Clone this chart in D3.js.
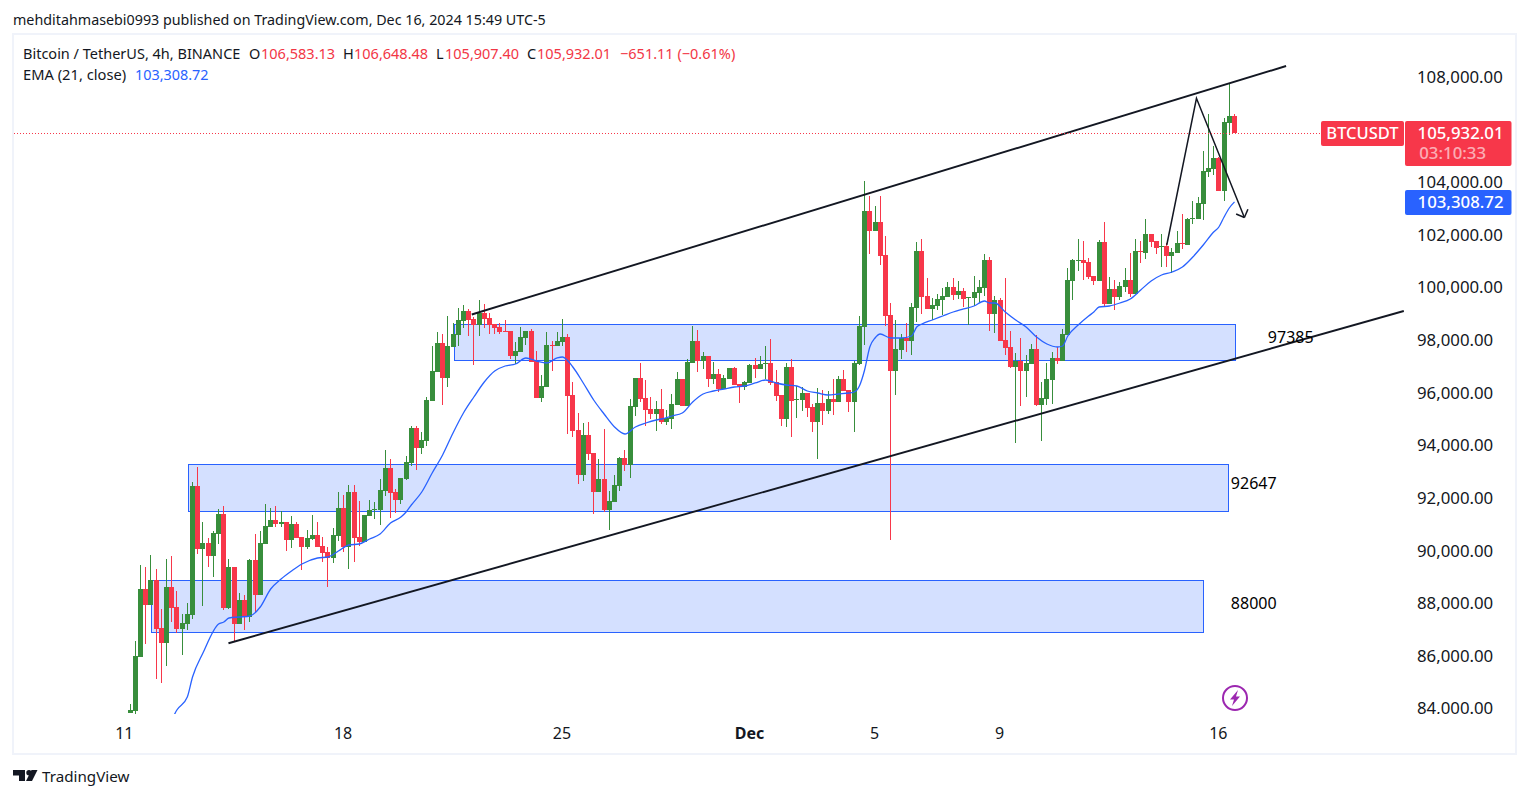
<!DOCTYPE html>
<html>
<head>
<meta charset="utf-8">
<script src="https://cdn.jsdelivr.net/npm/d3@7"></script>
<style>
  html, body { margin: 0; padding: 0; background: #fff; }
  svg { display: block; }
  text { font-family: "Noto Sans", sans-serif; }
</style>
</head>
<body>
<svg id="chart" width="1529" height="798"></svg>
<script>
// --- 4h candles, bar 0 is the left-most one ---
const candleOpen = [
  83886,83962,86014,88598,87990,88940,87116,86546,88674,87914,
  87078,87268,87610,92512,90118,90346,89852,90688,91448,87876,
  89434,87268,88180,87534,89700,88370,90308,90954,91220,91068,
  91144,90460,91068,90574,90194,90498,90650,90232,90004,89776,
  90612,91676,90194,92284,90574,90384,91372,91600,91600,92322,
  93196,92284,91980,92778,93386,94716,93956,94222,95742,96844,
  97946,96616,97794,98250,98782,99162,98858,98630,99086,98896,
  98668,98554,98402,98402,97452,97604,98136,98402,97262,95856,
  96274,97870,97832,97984,98174,95970,94640,92930,94450,93766,
  92284,92778,91600,91904,92512,93576,93310,95514,96616,95856,
  95438,95248,95438,94944,95058,95590,96578,95552,97186,98022,
  97262,97452,96578,96768,96198,96578,96996,96388,96274,96426,
  97110,96958,97148,97186,96464,95970,95058,97034,95780,95780,
  96046,95514,94944,95666,95362,95818,95704,96578,96160,95704,
  97148,98554,102962,102202,102544,101290,99010,96882,97680,98136,
  98022,99276,101442,99732,99238,99352,99580,99694,100074,99770,
  99922,99656,99656,99846,100036,101100,99048,99580,98060,97794,
  97034,97262,96882,97148,97718,95590,95818,96540,97376,97262,
  98250,100302,101062,101100,101024,100492,100302,101784,99428,99998,
  99694,100074,100340,99808,101442,101366,102088,101822,101594,101632,
  101252,101366,101746,101670,102658,102658,103228,104444,104558,104976,
  103722,106306,106583.13
];
const candleHigh = [
  84228,86622,89510,89434,89890,89358,87838,89738,89852,88522,
  87648,88066,92664,93234,91144,90536,90802,91638,91752,89738,
  89434,88446,88370,89738,90688,90802,91828,91676,91752,91562,
  91144,91372,91144,90574,90840,91410,91144,90574,90194,90916,
  92284,92170,92550,92550,91942,91410,91980,91904,92778,93880,
  93538,92398,92816,93652,94792,94792,94564,95894,97832,98364,
  98288,98972,98706,99276,99390,99238,98934,99580,99428,99086,
  98668,98706,98820,98402,97984,98554,98402,98478,97642,96730,
  98364,98022,98364,98858,98288,96464,95286,94906,94944,93766,
  93538,94678,92322,92930,93614,93880,95818,96616,97186,96540,
  95894,95742,96198,95400,96008,96844,96578,97338,98592,98440,
  97604,97452,97224,96958,96730,96996,97034,96388,96502,97148,
  97376,97452,97832,98098,96920,95970,97186,97338,96312,96274,
  96046,95628,96236,96160,96122,96578,96692,96920,96160,97262,
  98972,104102,103532,103152,103532,102012,99466,98820,98288,98706,
  99466,101784,101898,100416,99656,99808,100036,100264,100416,100302,
  100036,99694,100492,100340,101328,101214,99732,99656,100416,98402,
  97566,98136,97490,97908,98250,96464,97186,97604,97794,98478,
  100796,101138,101898,101822,101176,100492,101860,102544,100454,100340,
  100264,100796,101366,101898,101822,102658,102088,101822,102088,101746,
  101556,102202,102848,102696,103342,103494,105242,106648,105432,105014,
  106496,107788,106648.48
];
const candleLow = [
  83886,83848,86014,86508,87990,85178,85026,85672,87344,86926,
  86090,87040,87458,89928,87952,89434,89054,90308,87800,87838,
  86622,87268,87040,87344,87724,88370,90308,90954,90954,90954,
  90042,90156,90536,89320,90118,90460,90194,89624,88674,89586,
  90422,90004,89358,89624,90232,90384,91372,91258,91030,92132,
  91296,91486,91828,92740,93272,93120,93728,94032,95742,96844,
  95590,96274,97794,97832,98516,98212,97110,98212,98516,98288,
  98288,98288,98364,97338,97148,97604,97870,97224,95856,95704,
  96274,96882,97832,97832,94488,94374,92588,92702,93500,91448,
  92284,91524,90840,91904,92322,93082,92816,95172,95704,94792,
  95058,94602,94868,94830,94678,95590,95552,95552,97186,96844,
  96958,96274,96388,96084,96198,96578,96350,95666,96160,96426,
  96616,96958,96578,96350,95742,94792,94754,94374,95096,95362,
  95134,94564,93538,94830,95248,95210,95704,96122,95324,94564,
  97110,97870,101328,102202,100910,98592,90460,95970,97338,97604,
  97490,98744,99048,99238,98820,99200,99010,99694,99580,99618,
  99314,98630,99352,99466,99732,98402,98326,98022,97490,96996,
  94146,95552,95894,97148,95552,94222,95590,95628,97148,97262,
  98250,99580,100682,100340,100378,100150,100302,99314,99428,99200,
  99580,99884,99694,99808,100986,101138,101594,101328,100834,100834,
  100606,101366,101518,101670,102468,102658,102620,104254,104330,103722,
  103342,105850,105907.4
];
const candleClose = [
  84000,86052,88598,87990,88940,87078,86546,88674,87876,87078,
  87306,87648,92512,90118,90346,89852,90726,91448,87876,89434,
  87268,88180,87534,89700,88370,90346,90992,91220,91068,91144,
  90460,91068,90536,90194,90536,90650,90194,89966,89776,90650,
  91676,90194,92284,90536,90384,91410,91600,91638,92360,93196,
  92246,91980,92816,93424,94716,93956,94260,95780,96882,97946,
  96616,97832,98288,98820,99162,98820,98630,99086,98858,98630,
  98516,98364,98364,97452,97642,98174,98402,97224,95856,96312,
  97870,97832,98022,98174,95932,94602,92930,94450,93728,92284,
  92778,91600,91942,92550,93576,93310,95552,96616,95818,95400,
  95248,95438,94944,95096,95628,96578,95552,97224,98022,97262,
  97452,96578,96768,96198,96616,96996,96350,96274,96464,97110,
  96958,97148,97186,96426,95932,95058,97034,95742,95818,96046,
  95476,94944,95666,95362,95818,95704,96578,96122,95704,97186,
  98592,102962,102202,102544,101252,98972,96882,97718,98136,98022,
  99314,101442,99694,99238,99390,99618,99732,100074,99770,99922,
  99618,99694,99884,100074,101100,99048,99580,98022,97756,97034,
  97262,96882,97186,97718,95590,95856,96578,97376,97262,98288,
  100340,101100,101100,100986,100454,100302,101784,99428,99998,99694,
  100112,100340,99808,101442,101404,102088,101784,101556,101632,101252,
  101404,101746,101708,102658,102696,103266,104482,104596,104976,103722,
  106344,106572,105932.01
];

// --- EMA (21), sampled by eye at these bars ---
const emaBars = [
  8,9,11,12,14,17,18,19,21,23,25,27,29,31,33,36,38,40,42,44,46,48,50,52,53,54,56,58,60,62,
  64,66,68,70,72,74,76,78,80,82,83,85,87,89,91,93,95,97,99,101,102,104,106,108,110,112,114,116,118,120,
  122,124,126,128,130,132,134,136,138,139,140,141,142,143,144,146,148,150,151,152,154,156,158,160,162,164,165,166,168,170,
  172,174,176,178,179,180,182,184,185,186,188,190,192,194,196,198,200,202,204,206,208,209,210,211,212
];
const emaValues = [
  83620,84000,84494,85254,86166,87268,87344,87496,87534,87572,87914,88598,88978,89282,89548,89776,89814,90042,90270,90308,90498,90688,91106,91334,91524,91790,92284,93006,93690,94526,
  95286,95894,96464,96882,97072,97148,97376,97262,97186,97376,97414,97034,96426,95780,95248,94754,94488,94754,94906,95020,95058,95172,95286,95704,96008,96122,96198,96274,96312,96426,
  96540,96426,96350,96312,96122,96046,95970,96008,96046,96084,96312,96920,97794,98136,98288,98136,98136,98212,98554,98668,98820,98972,99124,99238,99352,99542,99466,99466,99124,98820,
  98554,98174,97908,97794,97832,98212,98630,98972,99124,99314,99352,99466,99618,99960,100302,100530,100644,100834,101214,101670,102164,102354,102734,103076,103308.72
];

const priceTicks = [108000,104000,102000,100000,98000,96000,94000,92000,90000,88000,86000,84000];
const dayBars = [-1,41,83,119,143,167,209];
const dayLabels = ["11","18","25","Dec","5","9","16"];

// --- hand drawn stuff on the chart, in [bar, price] ---
const channelTop = [[65.6,99029],[221.9,108472]];
const channelBottom = [[18.9,86535],[244.5,99162]];
const projection = [[199,101670],[204.7,107245],[213.9,102715]];
const zoneBars = [[62.1,212],[11.2,210.8],[4.1,206]];
const zoneTops = [98649,93329,88921];
const zoneBottoms = [97281,91543,86945];
const zoneLabels = ["97385","92647","88000"];
const zoneLabelBars = [218.4,211.3,211.3];
const zoneLabelPrices = [98174,92626,88066];

const lastPrice = 105932.01, emaLast = 103308.72;

const headerText = "mehditahmasebi0993 published on TradingView.com, Dec 16, 2024 15:49 UTC-5";
const legendParts = [
  ["Bitcoin / TetherUS, 4h, BINANCE", 23, "#131722"],
  ["O", 249, "#131722"], ["106,583.13", 261, "#f23645"],
  ["H", 343, "#131722"], ["106,648.48", 354, "#f23645"],
  ["L", 436, "#131722"], ["105,907.40", 445, "#f23645"],
  ["C", 527, "#131722"], ["105,932.01", 537, "#f23645"],
  ["\u2212651.11 (\u22120.61%)", 620, "#f23645"]
];

const upColor = "#388e3c", downColor = "#f7374a", emaColor = "#2962ff", inkColor = "#131722";

const svg = d3.select("#chart");

// --- frame ---
svg.append("rect").attr("x",13).attr("y",34).attr("width",1503).attr("height",720)
  .attr("fill","#fff").attr("stroke","#f0f3fa").attr("stroke-width",2);

svg.append("defs").append("clipPath").attr("id","pane")
  .append("rect").attr("x",14).attr("y",35).attr("width",1390).attr("height",679);
svg.select("defs").append("clipPath").attr("id","priceAxis")
  .append("rect").attr("x",1404).attr("y",35).attr("width",111).attr("height",679);

const x = d3.scaleLinear().domain([0,212]).range([130,1234.5]);
const y = d3.scaleLinear().domain([84000,108000]).range([710,78.42]);

const pane = svg.append("g").attr("clip-path","url(#pane)");

// --- zones sit under the candles ---
zoneTops.forEach((top,i) => {
  const x0 = Math.round(x(zoneBars[i][0])) + .5, x1 = Math.round(x(zoneBars[i][1])) + .5;
  const y0 = Math.round(y(top)) + .5, y1 = Math.round(y(zoneBottoms[i])) + .5;
  pane.append("rect").attr("x",x0).attr("y",y0).attr("width",x1-x0).attr("height",y1-y0)
    .attr("fill",emaColor).attr("fill-opacity",.2).attr("stroke",emaColor).attr("stroke-width",1);
});

// --- last price dotted line ---
svg.append("line").attr("x1",14).attr("x2",1322)
  .attr("y1",Math.round(y(lastPrice))+.5).attr("y2",Math.round(y(lastPrice))+.5)
  .attr("stroke",downColor).attr("stroke-dasharray","1 2");

// --- candles ---
const bars = pane.append("g").attr("shape-rendering","crispEdges")
  .selectAll("g").data(candleOpen).enter().append("g")
  .attr("fill",(d,i) => candleClose[i] >= d ? upColor : downColor);

bars.append("rect")
  .attr("x",(d,i) => Math.floor(x(i)))
  .attr("width",1)
  .attr("y",(d,i) => Math.round(y(candleHigh[i])))
  .attr("height",(d,i) => Math.max(1,Math.round(y(candleLow[i]))-Math.round(y(candleHigh[i]))));

bars.append("rect")
  .attr("x",(d,i) => Math.floor(x(i))-2)
  .attr("width",5)
  .attr("y",(d,i) => Math.round(y(Math.max(d,candleClose[i]))))
  .attr("height",(d,i) => Math.max(1,Math.round(y(Math.min(d,candleClose[i])))-Math.round(y(Math.max(d,candleClose[i])))));

// --- EMA ---
const emaLine = d3.line().x(d => x(d)).y((d,i) => y(emaValues[i])).curve(d3.curveMonotoneX);
pane.append("path").attr("d",emaLine(emaBars))
  .attr("fill","none").attr("stroke",emaColor).attr("stroke-width",1.3);

// --- channel and the projection ---
const drawLine = d3.line().x(d => x(d[0])).y(d => y(d[1]));
pane.append("path").attr("d",drawLine(channelTop)).attr("fill","none").attr("stroke",inkColor).attr("stroke-width",1.9);
pane.append("path").attr("d",drawLine(channelBottom)).attr("fill","none").attr("stroke",inkColor).attr("stroke-width",1.9);
pane.append("path").attr("d",drawLine(projection)).attr("fill","none").attr("stroke",inkColor).attr("stroke-width",1.5);

const tip = projection[2], prev = projection[1];
const tipX = x(tip[0]), tipY = y(tip[1]);
const back = Math.atan2(y(prev[1])-tipY, x(prev[0])-tipX);
[-Math.PI/4, Math.PI/4].forEach(a => {
  pane.append("line").attr("x1",tipX).attr("y1",tipY)
    .attr("x2",tipX+9*Math.cos(back+a)).attr("y2",tipY+9*Math.sin(back+a))
    .attr("stroke",inkColor).attr("stroke-width",1.5);
});

// --- zone value labels ---
zoneLabels.forEach((t,i) => {
  svg.append("text").attr("x",x(zoneLabelBars[i])).attr("y",y(zoneLabelPrices[i])).attr("dy","0.35em")
    .attr("font-size",16).attr("fill","#000").text(t);
});

// --- axes ---
const priceAxis = d3.axisRight(y).tickValues(priceTicks).tickFormat(d3.format(",.2f")).tickSize(0).tickPadding(0);
const priceG = svg.append("g").attr("clip-path","url(#priceAxis)").append("g").attr("transform","translate(1417,0)").call(priceAxis);
priceG.select(".domain").remove();
priceG.selectAll("text").attr("dy",3.9).attr("font-size",16.8).attr("font-family",null).attr("fill",inkColor);

const timeAxis = d3.axisBottom(x).tickValues(dayBars).tickFormat((d,i) => dayLabels[i]).tickSize(0).tickPadding(0);
const timeG = svg.append("g").attr("transform","translate(-1,739)").call(timeAxis);
timeG.select(".domain").remove();
timeG.selectAll("text").attr("dy",0).attr("font-size",16).attr("font-family",null).attr("fill",inkColor)
  .attr("font-weight",(d,i) => dayLabels[i] === "Dec" ? 700 : 400);

// --- price tags ---
function tag(x0, y0, w, h, color){
  svg.append("rect").attr("x",x0).attr("y",y0).attr("width",w).attr("height",h).attr("rx",2).attr("fill",color);
}
tag(1321,121,83,25,downColor);
tag(1405,121,106.5,45,downColor);
tag(1405,190,106.5,25,emaColor);
svg.append("text").attr("x",1362.5).attr("y",139).attr("text-anchor","middle").attr("font-size",16.5).attr("font-weight",500).attr("fill","#fff").text("BTCUSDT");
svg.append("text").attr("x",1503.5).attr("y",139).attr("text-anchor","end").attr("font-size",16.8).attr("font-weight",500).attr("fill","#fff").text(d3.format(",.2f")(lastPrice));
svg.append("text").attr("x",1486).attr("y",159).attr("text-anchor","end").attr("font-size",16.8).attr("font-weight",500).attr("fill","#fff").attr("fill-opacity",.6).text("03:10:33");
svg.append("text").attr("x",1503.5).attr("y",208).attr("text-anchor","end").attr("font-size",16.8).attr("font-weight",500).attr("fill","#fff").text(d3.format(",.2f")(emaLast));

// --- header and legend ---
svg.append("text").attr("x",13).attr("y",25).attr("font-size",14.3).attr("fill",inkColor).text(headerText);
legendParts.forEach(p => {
  svg.append("text").attr("x",p[1]).attr("y",59).attr("font-size",14.5).attr("fill",p[2]).text(p[0]);
});
svg.append("text").attr("x",23).attr("y",80).attr("font-size",14.7).attr("fill",inkColor).text("EMA (21, close)");
svg.append("text").attr("x",135).attr("y",80).attr("font-size",14.4).attr("fill",emaColor).text(d3.format(",.2f")(emaLast));

// --- lightning badge ---
const badge = svg.append("g").attr("transform","translate(1235,698)");
badge.append("circle").attr("r",12).attr("fill","#fff").attr("stroke","#9c27b0").attr("stroke-width",2);
badge.append("path").attr("d","M3,-8 L-5,1.5 L-1,1.5 L-3,8 L5,-1.5 L1,-1.5 Z").attr("fill","#9c27b0");

// --- footer ---
const logo = svg.append("g").attr("transform","translate(13,770)").attr("fill",inkColor);
logo.append("path").attr("d","M0,0 H12 V11 H6 V5.5 H0 Z");
logo.append("circle").attr("cx",16).attr("cy",2.7).attr("r",2.7);
logo.append("path").attr("d","M18.5,0 H24.5 L19,11 H13 Z");
svg.append("text").attr("x",42).attr("y",782).attr("font-size",15.2).attr("fill",inkColor).text("TradingView");
</script>
</body>
</html>
